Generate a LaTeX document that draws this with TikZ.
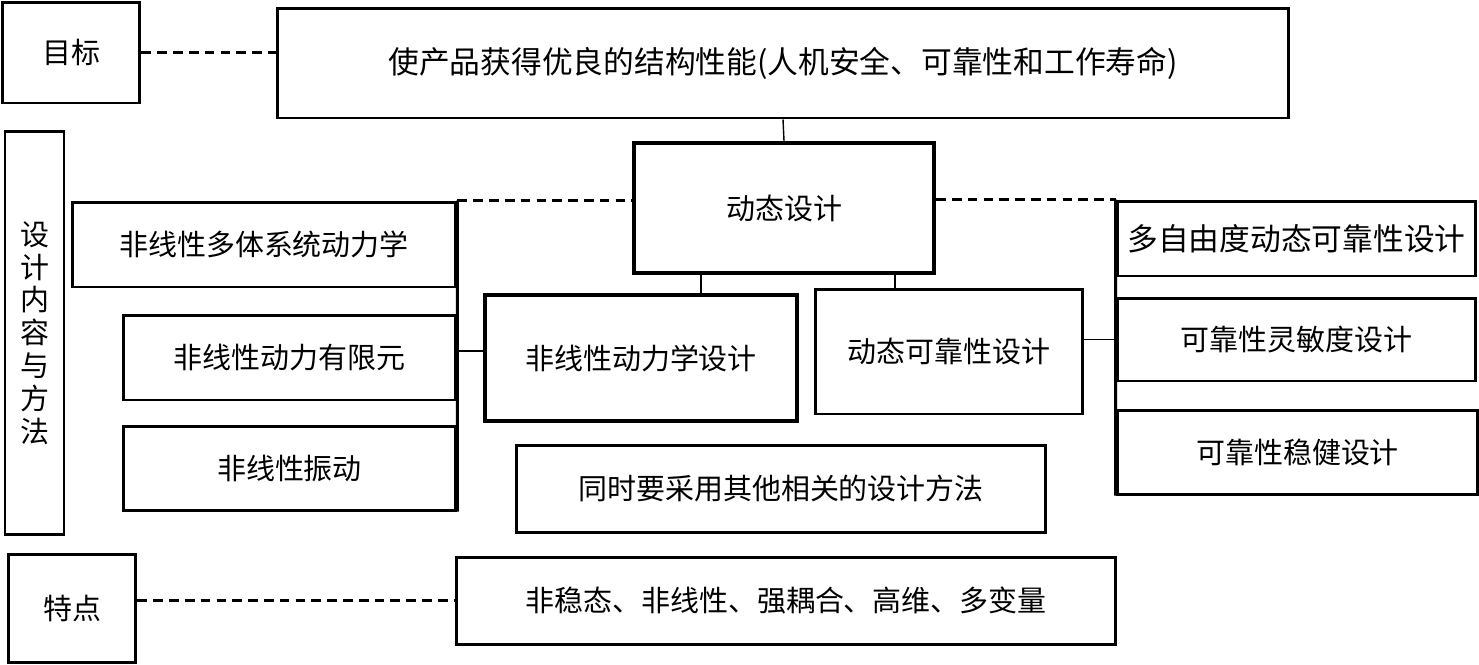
\documentclass[tikz,border=0pt]{standalone}
\usepackage{fontspec}
\newfontfamily\cjk{Noto Sans CJK SC}

\tikzset{
  blk/.style={draw, line width=1.7pt, inner sep=0pt, align=center,
    font=\cjk\fontsize{16.5pt}{19pt}\selectfont},
  heavy/.style={blk, line width=2.4pt},
  link/.style={line width=0.8pt},
  dashlink/.style={line width=1.2pt, dash pattern=on 5.5pt off 3.5pt}
}

\begin{document}
\begin{tikzpicture}[x=0.02cm,y=-0.02cm]
        \useasboundingbox (0,0) rectangle (1479,664);
        % left column
        \node[blk, minimum width=2.76cm, minimum height=2.02cm] (goal) at (71,52.5) {目标};
        \node[blk, minimum width=1.18cm, minimum height=8.06cm,
              font=\cjk\fontsize{16.5pt}{18.7pt}\selectfont] (content) at (34.5,333)
              {设\\计\\内\\容\\与\\方\\法};
        \node[blk, minimum width=2.56cm, minimum height=2.16cm] (feature) at (72,608) {特点};
        % top and centre
        \node[blk, minimum width=20.24cm, minimum height=2.2cm,
              font=\cjk\fontsize{17.5pt}{20pt}\selectfont] (aim) at (783,63)
              {使产品获得优良的结构性能(人机安全、可靠性和工作寿命)};
        \node[heavy, minimum width=6cm, minimum height=2.6cm] (dyndesign) at (784,208) {动态设计};
        \node[heavy, minimum width=6.24cm, minimum height=2.52cm] (nldesign) at (641,358) {非线性动力学设计};
        \node[blk, minimum width=5.36cm, minimum height=2.5cm] (reldesign) at (949,351.5) {动态可靠性设计};
        \node[blk, minimum width=10.6cm, minimum height=1.74cm] (other) at (781,488.5) {同时要采用其他相关的设计方法};
        \node[blk, minimum width=13.2cm, minimum height=1.74cm] (traits) at (786,600.5) {非稳态、非线性、强耦合、高维、多变量};
        % nonlinear branch
        \node[blk, minimum width=7.68cm, minimum height=1.7cm] (multibody) at (264,244.5) {非线性多体系统动力学};
        \node[blk, minimum width=6.66cm, minimum height=1.7cm] (fem) at (289.5,357.5) {非线性动力有限元};
        \node[blk, minimum width=6.66cm, minimum height=1.68cm] (vibration) at (289.5,468) {非线性振动};
        % reliability branch
        \node[blk, minimum width=7.18cm, minimum height=1.5cm,
              font=\cjk\fontsize{17.5pt}{20pt}\selectfont] (mdof) at (1296.5,238.5) {多自由度动态可靠性设计};
        \node[blk, minimum width=7.18cm, minimum height=1.66cm] (sens) at (1296.5,339.5) {可靠性灵敏度设计};
        \node[blk, minimum width=7.22cm, minimum height=1.68cm] (robust) at (1297.5,452) {可靠性稳健设计};

        \draw[dashlink] (goal.east) -- (goal.east -| aim.west);
        \draw[dashlink] (traits.west -| feature.east) -- (traits.west);
        \draw[dashlink] (multibody.north east) -- (multibody.north east -| dyndesign.west);
        \draw[dashlink] (dyndesign.east |- mdof.north west) -- (mdof.north west);
        \draw[link] (aim.south) -- (dyndesign.north);
        \draw[link] ([xshift=-1.66cm]dyndesign.south) -- ([xshift=-1.66cm]dyndesign.south |- nldesign.north);
        \draw[link] ([xshift=2.22cm]dyndesign.south) -- ([xshift=2.22cm]dyndesign.south |- reldesign.north);
        \draw[blk] (multibody.north east) -- (vibration.south east);
        \draw[blk] (mdof.north west) -- (robust.south west);
        \draw[link] ([yshift=0.14cm]nldesign.west) -- ([yshift=0.14cm]nldesign.west -| fem.east);
        \draw[link] (reldesign.east |- sens.west) -- (sens.west);
      \end{tikzpicture}
\end{document}
